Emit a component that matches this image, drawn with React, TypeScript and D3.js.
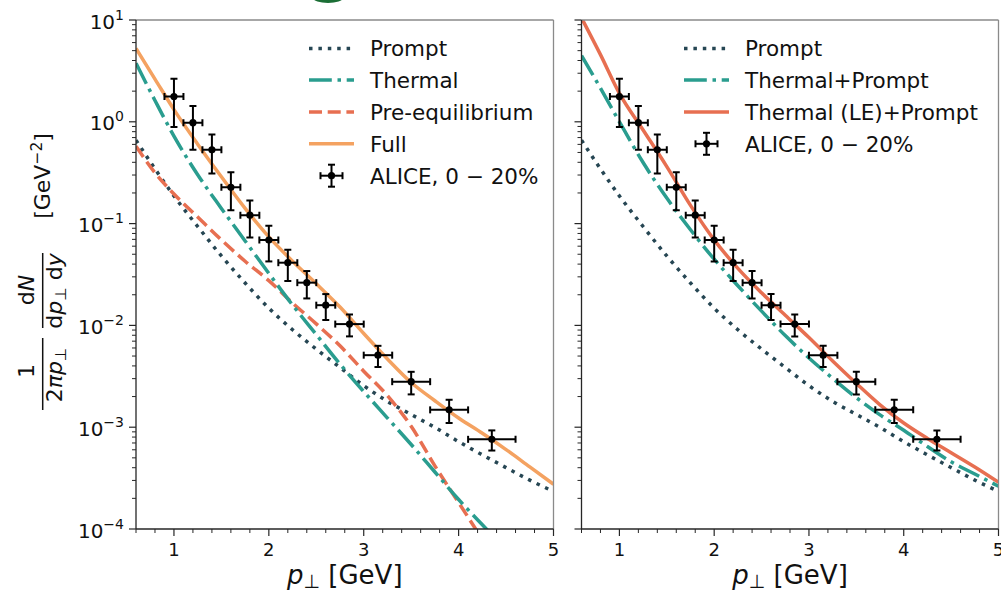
import React from "react";
import * as d3 from "d3";

// ---------- data ----------
const pTGrid = [0.6, 0.8, 1.0, 1.25, 1.5, 1.75, 2.0, 2.25, 2.5, 2.75, 3.0, 3.25, 3.5, 3.75, 4.0, 4.25, 4.5, 4.75, 5.0];

const promptVals = [0.66, 0.345, 0.187, 0.0937, 0.0481, 0.0261, 0.01476, 0.00906, 0.00585, 0.00386, 0.00256, 0.001795, 0.001334, 9.95e-4, 7.21e-4, 5.35e-4, 4.01e-4, 3.02e-4, 2.34e-4];
const thermalVals = [3.76, 1.62, 0.724, 0.302, 0.141, 0.0676, 0.0324, 0.01585, 0.00813, 0.00417, 0.00224, 0.00123, 6.76e-4, 3.63e-4, 1.95e-4, 1.1e-4, 6.3e-5];
const preEqVals = [0.575, 0.316, 0.195, 0.116, 0.0692, 0.0427, 0.0275, 0.0166, 0.01035, 0.0063, 0.00355, 0.00204, 0.00102, 4.17e-4, 1.82e-4, 7.9e-5];
const fullVals = [5.25, 2.63, 1.318, 0.603, 0.288, 0.141, 0.0741, 0.0427, 0.0257, 0.01514, 0.00832, 0.00468, 0.00275, 0.00182, 0.00123, 8.71e-4, 6.03e-4, 4.07e-4, 2.75e-4];
const thermalPromptVals = [4.47, 2.14, 1.0, 0.398, 0.178, 0.0871, 0.0447, 0.0245, 0.0138, 0.00794, 0.00479, 0.00302, 0.00195, 0.00132, 9.33e-4, 6.46e-4, 4.57e-4, 3.47e-4, 2.63e-4];
const thermalLEPromptVals = [10.5, 4.57, 1.905, 0.832, 0.363, 0.151, 0.0692, 0.0363, 0.0209, 0.0126, 0.00759, 0.00447, 0.00269, 0.00166, 0.0011, 7.76e-4, 5.62e-4, 4.07e-4, 2.88e-4];

const alicePT = [1.0, 1.2, 1.4, 1.6, 1.8, 2.0, 2.2, 2.4, 2.6, 2.85, 3.15, 3.5, 3.9, 4.35];
const alicePTErr = [0.1, 0.1, 0.1, 0.1, 0.1, 0.1, 0.1, 0.1, 0.1, 0.15, 0.15, 0.2, 0.2, 0.25];
const aliceY = [1.77, 0.98, 0.53, 0.227, 0.121, 0.069, 0.0413, 0.0263, 0.0158, 0.0103, 0.0051, 0.0028, 0.00148, 0.00076];
const aliceYErr = [0.88, 0.45, 0.22, 0.092, 0.048, 0.0265, 0.014, 0.0079, 0.0045, 0.0025, 0.0012, 0.0007, 0.00038, 0.00017];

const xTicks = [1, 2, 3, 4, 5];
const yDecades = [-4, -3, -2, -1, 0, 1];
const yTickLabels = ["10", "10", "10", "10", "10", "10"];
const yTickExps = ["−4", "−3", "−2", "−1", "0", "1"];

const leftLegend = ["Prompt", "Thermal", "Pre-equilibrium", "Full", "ALICE, 0 − 20%"];
const rightLegend = ["Prompt", "Thermal+Prompt", "Thermal (LE)+Prompt", "ALICE, 0 − 20%"];

// ---------- styles ----------
const C = { prompt: "#264653", thermal: "#2a9d8f", pre: "#e76f51", full: "#f4a261" };
const LW = 3.5;
const DOT = "3.5 5.9";
const DASH = "13 5.7";
const DASHDOT = "22.8 5.7 3.5 5.7";
const FONT = "'DejaVu Sans', sans-serif";

const TOP = 20, BOTTOM = 529;
const yScale = d3.scaleLog().domain([1e-4, 10]).range([BOTTOM, TOP]);

type Series = { vals: number[]; color: string; dash?: string };

function Panel({ x0, x1, id, series, showYLabels, legend, legendX }: {
  x0: number; x1: number; id: string; series: Series[]; showYLabels: boolean;
  legend: { label: string; s?: Series }[]; legendX: number;
}) {
  const x = d3.scaleLinear().domain([0.6, 5]).range([x0, x1]);
  const y = yScale;
  const line = d3.line<[number, number]>()
    .x((d) => x(d[0]))
    .y((d) => y(d[1]))
    .curve(d3.curveMonotoneX);

  const minorX = d3.range(0.6, 5.01, 0.2).filter((v) => Math.abs(v - Math.round(v)) > 1e-6);
  const minorY: number[] = [];
  for (let e = -4; e < 1; e++) for (let m = 2; m <= 9; m++) minorY.push(m * Math.pow(10, e));

  const rowY = [48.5, 80, 112, 143.8, 175.7];
  const hx0 = legendX, hx1 = legendX + 45, tx = legendX + 61;

  const errBar = (cx: number, cy: number, xl: number, xr: number, yt: number, yb: number, key: string) => (
    <g key={key} stroke="#000" strokeWidth={2}>
      <line x1={xl} x2={xr} y1={cy} y2={cy} />
      <line x1={cx} x2={cx} y1={yt} y2={yb} />
      <line x1={xl} x2={xl} y1={cy - 3.5} y2={cy + 3.5} />
      <line x1={xr} x2={xr} y1={cy - 3.5} y2={cy + 3.5} />
      <line x1={cx - 3.5} x2={cx + 3.5} y1={yt} y2={yt} />
      <line x1={cx - 3.5} x2={cx + 3.5} y1={yb} y2={yb} />
      <circle cx={cx} cy={cy} r={3.6} fill="#000" stroke="none" />
    </g>
  );

  return (
    <g>
      <defs>
        <clipPath id={id}>
          <rect x={x0} y={TOP} width={x1 - x0} height={BOTTOM - TOP} />
        </clipPath>
      </defs>
      <g clipPath={`url(#${id})`}>
        {series.map((s, i) => {
          const pts: [number, number][] = s.vals.map((v, j) => [pTGrid[j], v]);
          return (
            <path key={i} d={line(pts) || ""} fill="none" stroke={s.color} strokeWidth={LW}
              strokeDasharray={s.dash} strokeLinecap="butt" />
          );
        })}
        {alicePT.map((p, i) =>
          errBar(x(p), y(aliceY[i]), x(p - alicePTErr[i]), x(p + alicePTErr[i]),
            y(aliceY[i] + aliceYErr[i]), y(aliceY[i] - aliceYErr[i]), "e" + i)
        )}
      </g>
      {/* legend */}
      {legend.map((item, i) => (
        <g key={"lg" + i}>
          {item.s ? (
            <line x1={hx0} x2={hx1} y1={rowY[i]} y2={rowY[i]} stroke={item.s.color} strokeWidth={LW}
              strokeDasharray={item.s.dash} />
          ) : (
            errBar((hx0 + hx1) / 2, rowY[i], (hx0 + hx1) / 2 - 11, (hx0 + hx1) / 2 + 11, rowY[i] - 11, rowY[i] + 11, "le")
          )}
          <text x={tx} y={rowY[i] + 7.8} fontSize={21.5} fontFamily={FONT} fill="#111">{item.label}</text>
        </g>
      ))}
      {/* spines */}
      <line x1={x0} x2={x1} y1={TOP} y2={TOP} stroke="#8a8a8a" strokeWidth={1.3} />
      <line x1={x1} x2={x1} y1={TOP} y2={BOTTOM} stroke="#8a8a8a" strokeWidth={1.3} />
      <line x1={x0} x2={x0} y1={TOP} y2={BOTTOM} stroke="#262626" strokeWidth={1.3} />
      <line x1={x0} x2={x1} y1={BOTTOM} y2={BOTTOM} stroke="#262626" strokeWidth={1.3} />
      {/* x ticks */}
      {xTicks.map((t) => (
        <g key={"xt" + t}>
          <line x1={x(t)} x2={x(t)} y1={BOTTOM} y2={BOTTOM + 7} stroke="#262626" strokeWidth={1.2} />
          <text x={x(t)} y={556} textAnchor="middle" fontSize={18} fontFamily={FONT} fill="#111">{t}</text>
        </g>
      ))}
      {minorX.map((t, i) => (
        <line key={"xm" + i} x1={x(t)} x2={x(t)} y1={BOTTOM} y2={BOTTOM + 4} stroke="#262626" strokeWidth={1} />
      ))}
      {/* y ticks */}
      {yDecades.map((e, i) => (
        <g key={"yt" + e}>
          <line x1={x0 - 7} x2={x0} y1={y(Math.pow(10, e))} y2={y(Math.pow(10, e))} stroke="#262626" strokeWidth={1.2} />
          {showYLabels && (
            <text x={x0 - 12} y={y(Math.pow(10, e)) + 8.5} textAnchor="end" fontSize={20} fontFamily={FONT} fill="#111">
              {yTickLabels[i]}
              <tspan fontSize={14} dy={-9}>{yTickExps[i]}</tspan>
            </text>
          )}
        </g>
      ))}
      {minorY.map((v, i) => (
        <line key={"ym" + i} x1={x0 - 4} x2={x0} y1={y(v)} y2={y(v)} stroke="#262626" strokeWidth={1} />
      ))}
      {/* x label */}
      <text x={(x0 + x1) / 2} y={584} textAnchor="middle" fontSize={26} fontFamily={FONT} fill="#111">
        <tspan fontStyle="italic">p</tspan>
        <tspan fontSize={19} dy={4}>⊥</tspan>
        <tspan dy={-4}> [GeV]</tspan>
      </text>
    </g>
  );
}

export default function App() {
  const prompt: Series = { vals: promptVals, color: C.prompt, dash: DOT };
  const thermal: Series = { vals: thermalVals, color: C.thermal, dash: DASHDOT };
  const pre: Series = { vals: preEqVals, color: C.pre, dash: DASH };
  const full: Series = { vals: fullVals, color: C.full };
  const thPr: Series = { vals: thermalPromptVals, color: C.thermal, dash: DASHDOT };
  const thLE: Series = { vals: thermalLEPromptVals, color: C.pre };

  const yl = 42.7;
  return (
    <svg width={1001} height={593} style={{ position: "absolute", left: 0, top: 0, background: "#fff" }}>
      <rect x={0} y={0} width={1001} height={593} fill="#fff" />
      <ellipse cx={328} cy={-2} rx={15} ry={5} fill="#1b6e35" />
      <Panel x0={136} x1={553.5} id="clipL" series={[prompt, pre, thermal, full]} showYLabels={true}
        legendX={309}
        legend={[
          { label: leftLegend[0], s: prompt },
          { label: leftLegend[1], s: thermal },
          { label: leftLegend[2], s: pre },
          { label: leftLegend[3], s: full },
          { label: leftLegend[4] },
        ]} />
      <Panel x0={581.5} x1={998.5} id="clipR" series={[prompt, thPr, thLE]} showYLabels={false}
        legendX={684}
        legend={[
          { label: rightLegend[0], s: prompt },
          { label: rightLegend[1], s: thPr },
          { label: rightLegend[2], s: thLE },
          { label: rightLegend[3] },
        ]} />
      {/* y label */}
      <g transform={`translate(${yl},0) rotate(-90)`} fontFamily={FONT} fill="#111" fontSize={22}>
        <text x={-176} y={7.5} textAnchor="middle">[GeV<tspan fontSize={15.5} dy={-8.5}>−2</tspan><tspan dy={8.5}>]</tspan></text>
        <line x1={-328} x2={-253} y1={0} y2={0} stroke="#111" strokeWidth={1.5} />
        <text x={-290} y={-9} textAnchor="middle">d<tspan fontStyle="italic">N</tspan></text>
        <text x={-291} y={19.5} textAnchor="middle">d<tspan fontStyle="italic">p</tspan><tspan fontSize={15.5} dy={4}>⊥</tspan><tspan dy={-4}> d</tspan><tspan fontStyle="italic">y</tspan></text>
        <line x1={-410} x2={-338} y1={0} y2={0} stroke="#111" strokeWidth={1.5} />
        <text x={-371} y={-9} textAnchor="middle">1</text>
        <text x={-375} y={19.5} textAnchor="middle">2<tspan fontStyle="italic">πp</tspan><tspan fontSize={15.5} dy={4}>⊥</tspan></text>
      </g>
    </svg>
  );
}
